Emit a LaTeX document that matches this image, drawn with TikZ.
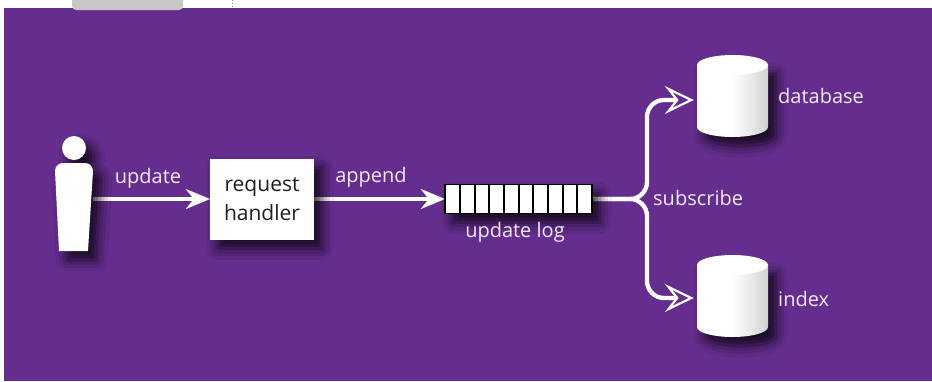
\documentclass[tikz,border=0pt]{standalone}
\usepackage{fontspec}
\setmainfont{Open Sans}
\usetikzlibrary{arrows.meta,shadows.blur}
\definecolor{bgpurple}{RGB}{101,45,142}
\definecolor{labelc}{RGB}{240,234,246}
\pgfdeclarehorizontalshading{cylshade}{100bp}{color(0bp)=(white); color(38bp)=(white); color(50bp)=(white); color(62bp)=(black!8); color(100bp)=(black!38)}
\begin{document}
\begin{tikzpicture}[x=1pt,y=-1pt,
  lbl/.style={text=labelc, font=\fontsize{20}{22}\selectfont, inner sep=0pt},
  shad/.style={blur shadow={shadow xshift=8pt, shadow yshift=-9pt, shadow blur radius=11pt, shadow opacity=80}},
  flow/.style={draw=white, line width=4.3pt},
  solidtip/.style={-{Stealth[length=24pt,width=20pt,inset=8pt,line width=0.1pt]}},
  opentip/.style={-{Stealth[open,length=29pt,width=28pt,inset=11pt,line width=2.2pt,fill=bgpurple]}},
  holder/.style={minimum width=#1, inner sep=0pt},
]
\useasboundingbox (0,0) rectangle (932,381);
\fill[white] (0,0) rectangle (932,381);
\fill[bgpurple] (4,8) rectangle (932,381);
\fill[black!22, rounded corners=4pt] (72,-6) rectangle (183,10);
\draw[black!50, dotted, line width=1pt] (232,0) -- (232,8);

% placeholder nodes for the person and the two stores
\node[holder=38pt, minimum height=115pt] (user) at (74,193.5) {};
\node[holder=71pt, minimum height=82pt] (db) at (732.5,96) {};
\node[holder=71pt, minimum height=82pt] (ix) at (732.5,296) {};
\node[minimum width=104pt, minimum height=81pt, inner sep=0pt] (rh) at (262,199) {};
\node[minimum width=147pt, minimum height=29pt, inner sep=0pt] (log) at (518.5,199) {};

% connectors (drawn first so shadows fall on them)
\draw[flow, solidtip] (user.east |- rh.west) -- (rh.west);
\draw[flow, solidtip] (rh.east) -- (log.west);
\draw[flow, opentip, rounded corners=17pt, shorten >=3pt]
  (log.east) -- (647,199) -- (647,100) -- (db.west |- 0,100);
\draw[flow, opentip, rounded corners=17pt, shorten >=3pt]
  (log.east) -- (647,199) -- (647,298) -- (ix.west |- 0,298);

% person
\fill[white, shad] (74,148) circle (12);
\fill[white, shad] (55,171) arc[start angle=180, end angle=270, radius=8]
  -- (85,163) arc[start angle=270, end angle=360, radius=8]
  -- (88,251) -- (59,251) -- cycle;

% request handler
\node[fill=white, shad, minimum width=104pt, minimum height=81pt, inner sep=0pt,
  align=center, text=black!88, font=\fontsize{21}{29}\selectfont] (rhbox) at (rh) {request\\handler};

% update log
\node[fill=white, draw=black, line width=1.5pt, shad, minimum width=147pt, minimum height=29pt, inner sep=0pt] (logbox) at (log) {};
\foreach \x in {460,475,489,504,519,533,548,563,577} {
  \draw[black, line width=1.4pt] (\x,184.5) -- (\x,213.5);
}

% cylinders
\foreach \n/\cy in {dbc/96, ixc/296} {
  \path[shading=cylshade, shade, shad] (697,\cy-31) -- (697,\cy+31)
    arc[start angle=180, end angle=0, x radius=35.5, y radius=10]
    -- (768,\cy-31) -- cycle;
  \fill[white] (732.5,\cy-31) ellipse [x radius=35.5, y radius=10];
}

% labels
\node[lbl, anchor=base] (lupdate) at (148,183) {update};
\node[lbl, anchor=base] (lappend) at (371,182) {append};
\node[lbl, anchor=base] (llog) at (515,237) {update log};
\node[lbl, anchor=base west] (ldb) at (778,103) {database};
\node[lbl, anchor=base west] (lsub) at (653,205) {subscribe};
\node[lbl, anchor=base west] (lix) at (778,306) {index};
\end{tikzpicture}
\end{document}
